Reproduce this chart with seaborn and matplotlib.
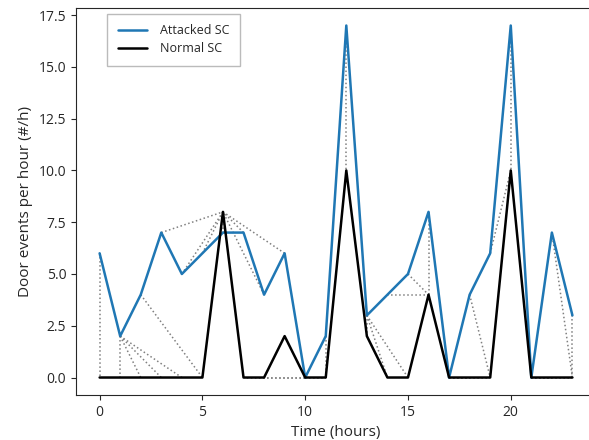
import numpy as np
import pandas as pd
import seaborn as sns
import matplotlib.pyplot as plt
from matplotlib import rcParams

sns.set_style("ticks")
rcParams['font.family'] = ['Open Sans', 'DejaVu Sans']
rcParams['font.size'] = 10
rcParams['figure.dpi'] = 100

hours = list(range(24))
attacked = [6, 2, 4, 7, 5, 6, 7, 7, 4, 6, 0, 2, 17, 3, 4, 5, 8, 0, 4, 6, 17, 0, 7, 3]
normal = [0, 0, 0, 0, 0, 0, 8, 0, 0, 2, 0, 0, 10, 2, 0, 0, 4, 0, 0, 0, 10, 0, 0, 0]


# plain dtw with absolute distance, backtrack the warping path
def dtw_path(a, b):
    n, m = len(a), len(b)
    D = np.full((n + 1, m + 1), np.inf)
    D[0, 0] = 0
    for i in range(1, n + 1):
        for j in range(1, m + 1):
            cost = abs(a[i - 1] - b[j - 1])
            D[i, j] = cost + min(D[i - 1, j], D[i, j - 1], D[i - 1, j - 1])
    i, j = n, m
    path = [(i - 1, j - 1)]
    while (i, j) != (1, 1):
        # ties: step back along a first, then diagonal, then along b
        steps = [(i - 1, j), (i - 1, j - 1), (i, j - 1)]
        steps = [s for s in steps if s[0] >= 1 and s[1] >= 1]
        i, j = min(steps, key=lambda s: D[s])
        path.append((i - 1, j - 1))
    return path[::-1]


path = dtw_path(attacked, normal)

df = pd.DataFrame({'Time (hours)': hours + hours,
                   'value': attacked + normal,
                   'series': ['Attacked SC'] * 24 + ['Normal SC'] * 24})

fig = plt.figure(figsize=(5.89, 4.40))
ax = fig.add_axes([0.129, 0.102, 0.883, 0.880])

for i, j in path:
    ax.plot([hours[i], hours[j]], [attacked[i], normal[j]], ':', color='grey', lw=1.1, zorder=1)

sns.lineplot(data=df, x='Time (hours)', y='value', hue='series',
             palette={'Attacked SC': '#1f77b4', 'Normal SC': 'black'},
             lw=1.8, ax=ax, zorder=2)
ax.set_xlabel('Time (hours)', fontsize=11)
ax.set_ylabel('Door events per hour (#/h)', fontsize=11)
ax.set_yticks(np.arange(0, 17.6, 2.5))
ax.legend(loc='upper left', bbox_to_anchor=(0.06, 0.985), borderaxespad=0,
          fancybox=False, edgecolor='#aaaaaa', fontsize=9, borderpad=0.85,
          handlelength=2.3, handletextpad=1.1, labelspacing=0.4)

fig.savefig('out.png', dpi=100)
